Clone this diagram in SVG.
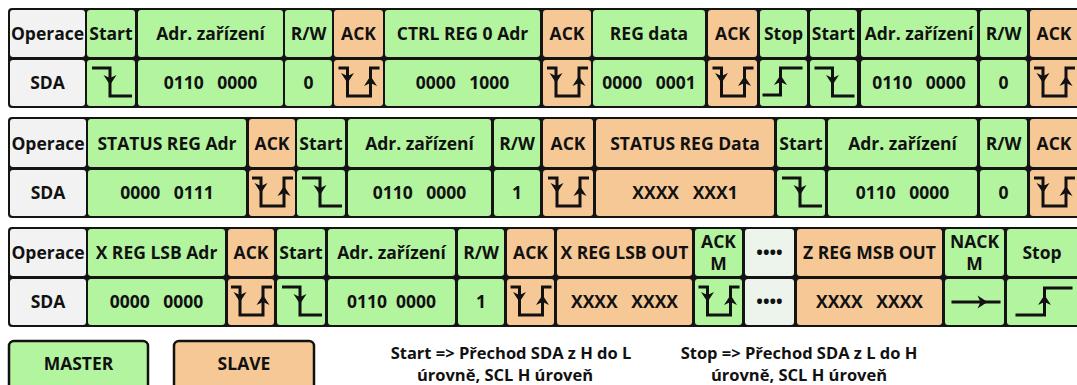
<svg xmlns="http://www.w3.org/2000/svg" width="1077" height="385" viewBox="0 0 1077 385">
<style>
.bg{fill:#141414}
.g{fill:#b3f59f}
.o{fill:#f6c896}
.w{fill:#f2f2f2}
.d{fill:#edf4ec}
.t{font-family:"Open Sans","Noto Sans","DejaVu Sans",sans-serif;font-weight:700;font-size:17.5px;text-anchor:middle;fill:#111}
.lg{font-family:"Open Sans","Noto Sans","DejaVu Sans",sans-serif;font-weight:700;font-size:16.5px;text-anchor:middle;fill:#111}
.sig{fill:none;stroke:#111;stroke-width:3;stroke-linejoin:miter;stroke-linecap:butt}
.ah{fill:#111}
.box{stroke:#111;stroke-width:2.5}
</style>
<defs>
<path id="aDown" class="ah" d="M0,0 L-6.5,-10 L0,-7 L6.5,-10 Z"/>
<path id="aUp" class="ah" d="M0,0 L-6.5,10 L0,7 L6.5,10 Z"/>
<path id="aRight" class="ah" d="M0,0 L-10,-6.5 L-7,0 L-10,6.5 Z"/>
<g id="sStart"><path class="sig" d="M-19,8 H-1 V36 H21"/><use href="#aDown" x="-1" y="25"/></g>
<g id="sStop"><path class="sig" d="M-21,35 H-3 V8 H19"/><use href="#aUp" x="-3" y="15"/></g>
<g id="sStopW"><path class="sig" d="M-28,36 H1 V9 H29"/><use href="#aUp" x="1" y="16"/></g>
<g id="sAck"><path class="sig" d="M-20,8 H-11 V36 H12 V8 H21"/><use href="#aDown" x="-11" y="23"/><use href="#aUp" x="12" y="16"/></g>
<g id="sNack"><path class="sig" d="M-23,23 H26"/><use href="#aRight" x="13" y="23"/></g>
</defs>
<rect x="0" y="0" width="1077" height="385" fill="#ffffff"/>

<!-- Row 1 -->
<g id="row1">
<rect class="bg" x="8" y="8" width="1080" height="100" rx="4"/>
<g id="r1-label"><rect class="w" x="10" y="10" width="75" height="47" rx="3"/><rect class="w" x="10" y="60" width="75" height="46" rx="3"/><text class="t" x="47.5" y="40">Operace</text><text class="t" x="47.5" y="89">SDA</text></g>
<g id="r1-start"><rect class="g" x="87" y="10" width="48" height="47" rx="3"/><rect class="g" x="87" y="60" width="48" height="46" rx="3"/><text class="t" x="111" y="40">Start</text><use href="#sStart" x="111" y="60"/></g>
<g id="r1-adr"><rect class="g" x="138" y="10" width="145" height="47" rx="3"/><rect class="g" x="138" y="60" width="145" height="46" rx="3"/><text class="t" x="210.5" y="40">Adr. zařízení</text><text class="t" x="210.5" y="89">0110&#160;&#160; 0000</text></g>
<g id="r1-rw"><rect class="g" x="285" y="10" width="47" height="47" rx="3"/><rect class="g" x="285" y="60" width="47" height="46" rx="3"/><text class="t" x="308.5" y="40">R/W</text><text class="t" x="308.5" y="89">0</text></g>
<g id="r1-ack1"><rect class="o" x="334" y="10" width="49" height="47" rx="3"/><rect class="o" x="334" y="60" width="49" height="46" rx="3"/><text class="t" x="358.5" y="40">ACK</text><use href="#sAck" x="358.5" y="60"/></g>
<g id="r1-ctrl"><rect class="g" x="385" y="10" width="155" height="47" rx="3"/><rect class="g" x="385" y="60" width="155" height="46" rx="3"/><text class="t" x="462.5" y="40">CTRL REG 0 Adr</text><text class="t" x="462.5" y="89">0000&#160;&#160; 1000</text></g>
<g id="r1-ack2"><rect class="o" x="543" y="10" width="48" height="47" rx="3"/><rect class="o" x="543" y="60" width="48" height="46" rx="3"/><text class="t" x="567" y="40">ACK</text><use href="#sAck" x="567" y="60"/></g>
<g id="r1-data"><rect class="g" x="593" y="10" width="112" height="47" rx="3"/><rect class="g" x="593" y="60" width="112" height="46" rx="3"/><text class="t" x="649" y="40">REG data</text><text class="t" x="649" y="89">0000&#160;&#160; 0001</text></g>
<g id="r1-ack3"><rect class="o" x="708" y="10" width="49" height="47" rx="3"/><rect class="o" x="708" y="60" width="49" height="46" rx="3"/><text class="t" x="732.5" y="40">ACK</text><use href="#sAck" x="732.5" y="60"/></g>
<g id="r1-stop"><rect class="g" x="760" y="10" width="47" height="47" rx="3"/><rect class="g" x="760" y="60" width="47" height="46" rx="3"/><text class="t" x="783.5" y="40">Stop</text><use href="#sStop" x="783.5" y="60"/></g>
<g id="r1-start2"><rect class="g" x="810" y="10" width="47" height="47" rx="3"/><rect class="g" x="810" y="60" width="47" height="46" rx="3"/><text class="t" x="833.5" y="40">Start</text><use href="#sStart" x="833.5" y="60"/></g>
<g id="r1-adr2"><rect class="g" x="861" y="10" width="116" height="47" rx="3"/><rect class="g" x="861" y="60" width="116" height="46" rx="3"/><text class="t" x="919" y="40">Adr. zařízení</text><text class="t" x="919" y="89">0110&#160;&#160; 0000</text></g>
<g id="r1-rw2"><rect class="g" x="980" y="10" width="47" height="47" rx="3"/><rect class="g" x="980" y="60" width="47" height="46" rx="3"/><text class="t" x="1003.5" y="40">R/W</text><text class="t" x="1003.5" y="89">0</text></g>
<g id="r1-ack4"><rect class="o" x="1030" y="10" width="52" height="47" rx="3"/><rect class="o" x="1030" y="60" width="52" height="46" rx="3"/><text class="t" x="1054" y="40">ACK</text><use href="#sAck" x="1054" y="60"/></g>
</g>

<!-- Row 2 -->
<g id="row2">
<rect class="bg" x="8" y="117" width="1080" height="101" rx="4"/>
<g id="r2-label"><rect class="w" x="10" y="119" width="76" height="48" rx="3"/><rect class="w" x="10" y="170" width="76" height="46" rx="3"/><text class="t" x="48" y="149.5">Operace</text><text class="t" x="48" y="199">SDA</text></g>
<g id="r2-status"><rect class="g" x="88" y="119" width="158" height="48" rx="3"/><rect class="g" x="88" y="170" width="158" height="46" rx="3"/><text class="t" x="167" y="149.5">STATUS REG Adr</text><text class="t" x="167" y="199">0000&#160;&#160; 0111</text></g>
<g id="r2-ack1"><rect class="o" x="249" y="119" width="46" height="48" rx="3"/><rect class="o" x="249" y="170" width="46" height="46" rx="3"/><text class="t" x="272" y="149.5">ACK</text><use href="#sAck" x="272" y="170"/></g>
<g id="r2-start"><rect class="g" x="297" y="119" width="48" height="48" rx="3"/><rect class="g" x="297" y="170" width="48" height="46" rx="3"/><text class="t" x="321" y="149.5">Start</text><use href="#sStart" x="321" y="170"/></g>
<g id="r2-adr"><rect class="g" x="348" y="119" width="143" height="48" rx="3"/><rect class="g" x="348" y="170" width="143" height="46" rx="3"/><text class="t" x="419.5" y="149.5">Adr. zařízení</text><text class="t" x="419.5" y="199">0110&#160;&#160; 0000</text></g>
<g id="r2-rw"><rect class="g" x="494" y="119" width="46" height="48" rx="3"/><rect class="g" x="494" y="170" width="46" height="46" rx="3"/><text class="t" x="517" y="149.5">R/W</text><text class="t" x="517" y="199">1</text></g>
<g id="r2-ack2"><rect class="o" x="543" y="119" width="50" height="48" rx="3"/><rect class="o" x="543" y="170" width="50" height="46" rx="3"/><text class="t" x="568" y="149.5">ACK</text><use href="#sAck" x="568" y="170"/></g>
<g id="r2-sdata"><rect class="o" x="596" y="119" width="178" height="48" rx="3"/><rect class="o" x="596" y="170" width="178" height="46" rx="3"/><text class="t" x="685" y="149.5">STATUS REG Data</text><text class="t" x="685" y="199">XXXX&#160;&#160; XXX1</text></g>
<g id="r2-start2"><rect class="g" x="777" y="119" width="48" height="48" rx="3"/><rect class="g" x="777" y="170" width="48" height="46" rx="3"/><text class="t" x="801" y="149.5">Start</text><use href="#sStart" x="801" y="170"/></g>
<g id="r2-adr2"><rect class="g" x="828" y="119" width="149" height="48" rx="3"/><rect class="g" x="828" y="170" width="149" height="46" rx="3"/><text class="t" x="902.5" y="149.5">Adr. zařízení</text><text class="t" x="902.5" y="199">0110&#160;&#160; 0000</text></g>
<g id="r2-rw2"><rect class="g" x="980" y="119" width="47" height="48" rx="3"/><rect class="g" x="980" y="170" width="47" height="46" rx="3"/><text class="t" x="1003.5" y="149.5">R/W</text><text class="t" x="1003.5" y="199">0</text></g>
<g id="r2-ack3"><rect class="o" x="1030" y="119" width="52" height="48" rx="3"/><rect class="o" x="1030" y="170" width="52" height="46" rx="3"/><text class="t" x="1054" y="149.5">ACK</text><use href="#sAck" x="1054" y="170"/></g>
</g>

<!-- Row 3 -->
<g id="row3">
<rect class="bg" x="8" y="227" width="1080" height="100" rx="4"/>
<g id="r3-label"><rect class="w" x="10" y="229" width="76" height="47" rx="3"/><rect class="w" x="10" y="279" width="76" height="46" rx="3"/><text class="t" x="48" y="258.5">Operace</text><text class="t" x="48" y="308">SDA</text></g>
<g id="r3-xadr"><rect class="g" x="88" y="229" width="137" height="47" rx="3"/><rect class="g" x="88" y="279" width="137" height="46" rx="3"/><text class="t" x="156.5" y="258.5">X REG LSB Adr</text><text class="t" x="156.5" y="308">0000&#160;&#160; 0000</text></g>
<g id="r3-ack1"><rect class="o" x="228" y="229" width="46" height="47" rx="3"/><rect class="o" x="228" y="279" width="46" height="46" rx="3"/><text class="t" x="251" y="258.5">ACK</text><use href="#sAck" x="251" y="279"/></g>
<g id="r3-start"><rect class="g" x="277" y="229" width="48" height="47" rx="3"/><rect class="g" x="277" y="279" width="48" height="46" rx="3"/><text class="t" x="301" y="258.5">Start</text><use href="#sStart" x="301" y="279"/></g>
<g id="r3-adr"><rect class="g" x="328" y="229" width="127" height="47" rx="3"/><rect class="g" x="328" y="279" width="127" height="46" rx="3"/><text class="t" x="391.5" y="258.5">Adr. zařízení</text><text class="t" x="391.5" y="308">0110&#160; 0000</text></g>
<g id="r3-rw"><rect class="g" x="458" y="229" width="46" height="47" rx="3"/><rect class="g" x="458" y="279" width="46" height="46" rx="3"/><text class="t" x="481" y="258.5">R/W</text><text class="t" x="481" y="308">1</text></g>
<g id="r3-ack2"><rect class="o" x="507" y="229" width="47" height="47" rx="3"/><rect class="o" x="507" y="279" width="47" height="46" rx="3"/><text class="t" x="530.5" y="258.5">ACK</text><use href="#sAck" x="530.5" y="279"/></g>
<g id="r3-xout"><rect class="o" x="557" y="229" width="135" height="47" rx="3"/><rect class="o" x="557" y="279" width="135" height="46" rx="3"/><text class="t" x="624.5" y="258.5">X REG LSB OUT</text><text class="t" x="624.5" y="308">XXXX&#160;&#160; XXXX</text></g>
<g id="r3-ackm"><rect class="g" x="695" y="229" width="47" height="47" rx="3"/><rect class="g" x="695" y="279" width="47" height="46" rx="3"/><text class="t" x="718.5" y="248">ACK</text><text class="t" x="718.5" y="270">M</text><use href="#sAck" x="718.5" y="279"/></g>
<g id="r3-dots"><rect class="d" x="745" y="229" width="49" height="47" rx="3"/><rect class="d" x="745" y="279" width="49" height="46" rx="3"/><text class="t" x="769.5" y="258.5">••••</text><text class="t" x="769.5" y="308">••••</text></g>
<g id="r3-zout"><rect class="o" x="797" y="229" width="145" height="47" rx="3"/><rect class="o" x="797" y="279" width="145" height="46" rx="3"/><text class="t" x="869.5" y="258.5">Z REG MSB OUT</text><text class="t" x="869.5" y="308">XXXX&#160;&#160; XXXX</text></g>
<g id="r3-nack"><rect class="g" x="945" y="229" width="59" height="47" rx="3"/><rect class="g" x="945" y="279" width="59" height="46" rx="3"/><text class="t" x="974.5" y="248">NACK</text><text class="t" x="974.5" y="270">M</text><use href="#sNack" x="974.5" y="279"/></g>
<g id="r3-stop"><rect class="g" x="1007" y="229" width="75" height="47" rx="3"/><rect class="g" x="1007" y="279" width="75" height="46" rx="3"/><text class="t" x="1042" y="258.5">Stop</text><use href="#sStopW" x="1043.5" y="279"/></g>
</g>

<g id="connectors"/>

<!-- Legend -->
<g id="legend-master"><rect class="g box" x="9" y="341" width="139" height="50" rx="5"/><text class="t" x="78.5" y="370">MASTER</text></g>
<g id="legend-slave"><rect class="o box" x="174" y="341" width="140" height="50" rx="5"/><text class="t" x="244" y="370">SLAVE</text></g>
<g id="note-start"><text class="lg" x="511" y="359">Start =&gt; Přechod SDA z H do L</text><text class="lg" x="505" y="381">úrovně, SCL H úroveň</text></g>
<g id="note-stop"><text class="lg" x="799" y="359">Stop =&gt; Přechod SDA z L do H</text><text class="lg" x="799" y="381">úrovně, SCL H úroveň</text></g>
</svg>
